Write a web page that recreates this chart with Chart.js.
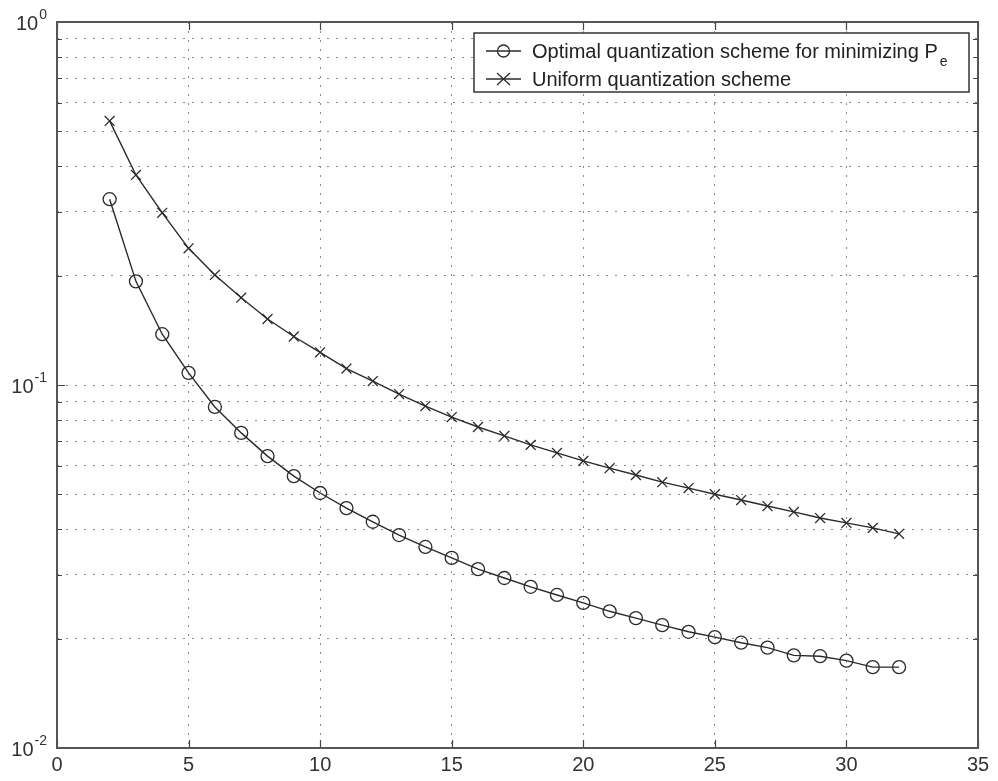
<!DOCTYPE html>
<html>
<head>
<meta charset="utf-8">
<script src="https://cdn.jsdelivr.net/npm/chart.js@4"></script>
<style>
  html, body { margin: 0; padding: 0; background: #fff; }
  #wrap { width: 998px; height: 781px; }
</style>
</head>
<body>
<div id="wrap"><canvas id="c" width="998" height="781"></canvas></div>
<script>
// quantization levels
const levels = [2,3,4,5,6,7,8,9,10,11,12,13,14,15,16,17,18,19,20,21,22,23,24,25,26,27,28,29,30,31,32];

// error probability, optimal quantizer
const optimal = [0.325,0.193,0.138,0.108,0.087,0.0738,0.0637,0.0561,0.0504,0.0458,0.042,0.0386,0.0358,0.0334,0.0311,0.0294,0.0278,0.0264,0.0251,0.0238,0.0228,0.0218,0.0209,0.0202,0.0195,0.0189,0.018,0.0179,0.0174,0.0167,0.0167];

// error probability, uniform quantizer
const uniform = [0.534,0.379,0.298,0.238,0.201,0.174,0.152,0.136,0.123,0.111,0.1025,0.0944,0.0875,0.0816,0.0766,0.0724,0.0684,0.065,0.0618,0.059,0.0565,0.054,0.052,0.050,0.0482,0.0464,0.0447,0.043,0.0417,0.0404,0.0389];

const legendLabels = ['Optimal quantization scheme for minimizing P', 'Uniform quantization scheme'];
const legendSub = 'e';

// log axis ticks (decades + minor)
const yTicks = [0.01,0.02,0.03,0.04,0.05,0.06,0.07,0.08,0.09,0.1,0.2,0.3,0.4,0.5,0.6,0.7,0.8,0.9,1];
const yDecades = [0.01, 0.1, 1];
const yDecadeExp = ['-2', '-1', '0'];

const FONT = '"Liberation Sans", Arial, Helvetica, sans-serif';
const INK = '#2a2a2a';

function isDecade(v) {
    return yDecades.some(d => Math.abs(d - v) < 1e-9);
}

// box, inner tick marks, y labels with superscripts, legend
const matlabLook = {
    id: 'matlabLook',
    afterDraw(chart) {
        const ctx = chart.ctx;
        const a = chart.chartArea;
        const xs = chart.scales.x;
        const ys = chart.scales.y;
        ctx.save();

        // tick marks pointing inward
        ctx.strokeStyle = '#444';
        ctx.lineWidth = 1.2;
        ctx.beginPath();
        yTicks.forEach(v => {
            const y = Math.round(ys.getPixelForValue(v)) + 0.5;
            const len = isDecade(v) ? 8 : 5;
            ctx.moveTo(a.left, y); ctx.lineTo(a.left + len, y);
            ctx.moveTo(a.right, y); ctx.lineTo(a.right - len, y);
        });
        xs.ticks.forEach(t => {
            const x = Math.round(xs.getPixelForValue(t.value)) + 0.5;
            ctx.moveTo(x, a.bottom); ctx.lineTo(x, a.bottom - 8);
            ctx.moveTo(x, a.top); ctx.lineTo(x, a.top + 8);
        });
        ctx.stroke();

        // axes box
        ctx.strokeStyle = '#555';
        ctx.lineWidth = 2;
        ctx.strokeRect(a.left, a.top, a.right - a.left, a.bottom - a.top);

        // y labels 10^n
        ctx.fillStyle = '#333';
        ctx.textBaseline = 'alphabetic';
        ctx.textAlign = 'left';
        yDecades.forEach((v, i) => {
            const y = ys.getPixelForValue(v);
            ctx.font = '20px ' + FONT;
            const wBase = ctx.measureText('10').width;
            ctx.font = '14px ' + FONT;
            const wSup = ctx.measureText(yDecadeExp[i]).width;
            const right = a.left - 10;
            ctx.font = '20px ' + FONT;
            ctx.fillText('10', right - wSup - wBase - 1, y + 8);
            ctx.font = '14px ' + FONT;
            ctx.fillText(yDecadeExp[i], right - wSup, y - 3);
        });

        // legend
        const lx = 474, ly = 33, lw = 495, lh = 59;
        ctx.fillStyle = '#fff';
        ctx.fillRect(lx, ly, lw, lh);
        ctx.strokeStyle = '#333';
        ctx.lineWidth = 1.5;
        ctx.strokeRect(lx, ly, lw, lh);
        const rows = [51, 79];
        rows.forEach((ry, i) => {
            ctx.strokeStyle = INK;
            ctx.lineWidth = 1.3;
            ctx.beginPath();
            ctx.moveTo(486, ry); ctx.lineTo(521, ry);
            ctx.stroke();
            ctx.beginPath();
            if (i === 0) {
                ctx.arc(503.5, ry, 6, 0, Math.PI * 2);
            } else {
                ctx.moveTo(497, ry - 6); ctx.lineTo(510, ry + 6);
                ctx.moveTo(510, ry - 6); ctx.lineTo(497, ry + 6);
            }
            ctx.stroke();
            ctx.fillStyle = '#222';
            ctx.textAlign = 'left';
            ctx.textBaseline = 'alphabetic';
            ctx.font = '20px ' + FONT;
            ctx.fillText(legendLabels[i], 532, ry + 7);
            if (i === 0) {
                const w = ctx.measureText(legendLabels[i]).width;
                ctx.font = '14px ' + FONT;
                ctx.fillText(legendSub, 532 + w + 2, ry + 15);
            }
        });
        ctx.restore();
    }
};

new Chart(document.getElementById('c'), {
    type: 'line',
    data: {
        labels: levels,
        datasets: [
            {
                label: legendLabels[0],
                data: levels.map((x, i) => ({ x: x, y: optimal[i] })),
                borderColor: INK,
                borderWidth: 1.4,
                pointStyle: 'circle',
                pointRadius: 6.5,
                pointBorderWidth: 1.3,
                pointBorderColor: INK,
                pointBackgroundColor: 'rgba(0,0,0,0)',
                tension: 0
            },
            {
                label: legendLabels[1],
                data: levels.map((x, i) => ({ x: x, y: uniform[i] })),
                borderColor: INK,
                borderWidth: 1.4,
                pointStyle: 'crossRot',
                pointRadius: 7,
                pointBorderWidth: 1.3,
                pointBorderColor: INK,
                tension: 0
            }
        ]
    },
    options: {
        responsive: false,
        animation: false,
        layout: { padding: { top: 22, right: 20, left: 0, bottom: 0 } },
        plugins: {
            legend: { display: false },
            tooltip: { enabled: false }
        },
        scales: {
            x: {
                type: 'linear',
                min: 0,
                max: 35,
                ticks: {
                    stepSize: 5,
                    color: '#333',
                    font: { family: FONT, size: 20 },
                    padding: 5,
                    maxRotation: 0
                },
                grid: {
                    color: '#8a8a8a',
                    lineWidth: 1,
                    drawTicks: false
                },
                border: { display: false, dash: [2, 7] },
                afterFit: s => { s.height = 33; }
            },
            y: {
                type: 'logarithmic',
                min: 0.01,
                max: 1,
                afterBuildTicks: s => { s.ticks = yTicks.map(v => ({ value: v })); },
                ticks: { display: false },
                grid: {
                    color: '#8a8a8a',
                    lineWidth: 1,
                    drawTicks: false
                },
                border: { display: false, dash: [2, 7] },
                afterFit: s => { s.width = 57; }
            }
        }
    },
    plugins: [matlabLook]
});
</script>
</body>
</html>
